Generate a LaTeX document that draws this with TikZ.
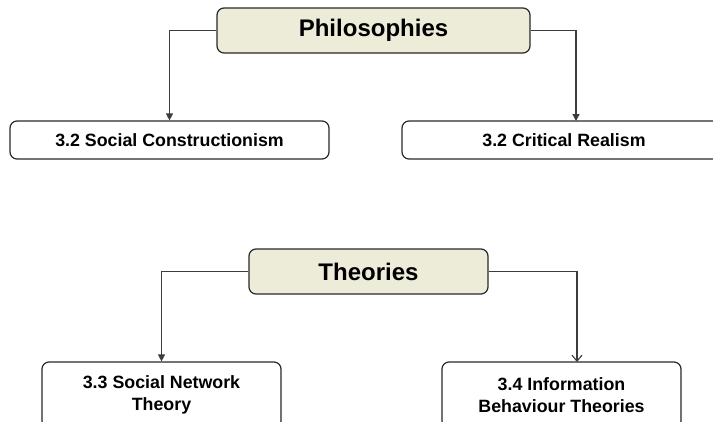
\documentclass[tikz,border=0pt]{standalone}
\usepackage{fontspec}
\setmainfont{Liberation Sans}
\usetikzlibrary{arrows.meta}
\definecolor{headfill}{RGB}{236,236,217}
\definecolor{edgegray}{RGB}{40,40,40}
\definecolor{linkgray}{RGB}{60,60,60}
\begin{document}
\begin{tikzpicture}[x=1pt,y=-1pt,
  headbox/.style={draw=edgegray,line width=1.2pt,fill=headfill,rounded corners=7pt,
    inner sep=0pt,font=\bfseries\fontsize{24}{28}\selectfont},
  itembox/.style={draw=edgegray,line width=1.2pt,fill=white,rounded corners=7pt,
    inner sep=0pt,align=center,font=\bfseries\fontsize{17.8}{22}\selectfont},
  link/.style={draw=linkgray,line width=1.2pt},
  solidtip/.style={-{Triangle[length=7pt,width=7pt]}},
  opentip/.style={-{Straight Barb[length=6pt,width=10pt,line width=1.1pt]}}]
\clip (0,0) rectangle (713,421);

% Philosophies branch
\node[headbox,minimum width=313pt,minimum height=45pt] (phil) at (373.5,30.5) {Philosophies};
\node[itembox,minimum width=319pt,minimum height=38pt] (socc) at (169.5,140) {3.2 Social Constructionism};
\node[itembox,minimum width=324pt,minimum height=38pt] (crit) at (564,140) {3.2 Critical Realism};
\coordinate (critin) at (576,121);
\draw[link,solidtip] (phil.west) -| (socc.north);
\draw[link,solidtip] (phil.east) -| (critin);

% Theories branch
\node[headbox,minimum width=239pt,minimum height=45pt] (theo) at (368.5,271.5) {Theories};
\node[itembox,minimum width=239pt,minimum height=66pt] (snet) at (161.5,395) {3.3 Social Network\\Theory};
\node[itembox,minimum width=239pt,minimum height=66pt] (ibeh) at (561.5,395) {3.4 Information\\Behaviour Theories};
\coordinate (ibehin) at (577,362);
\draw[link,solidtip] (theo.west) -| (snet.north);
\draw[link,opentip] (theo.east) -| (ibehin);
\end{tikzpicture}
\end{document}
